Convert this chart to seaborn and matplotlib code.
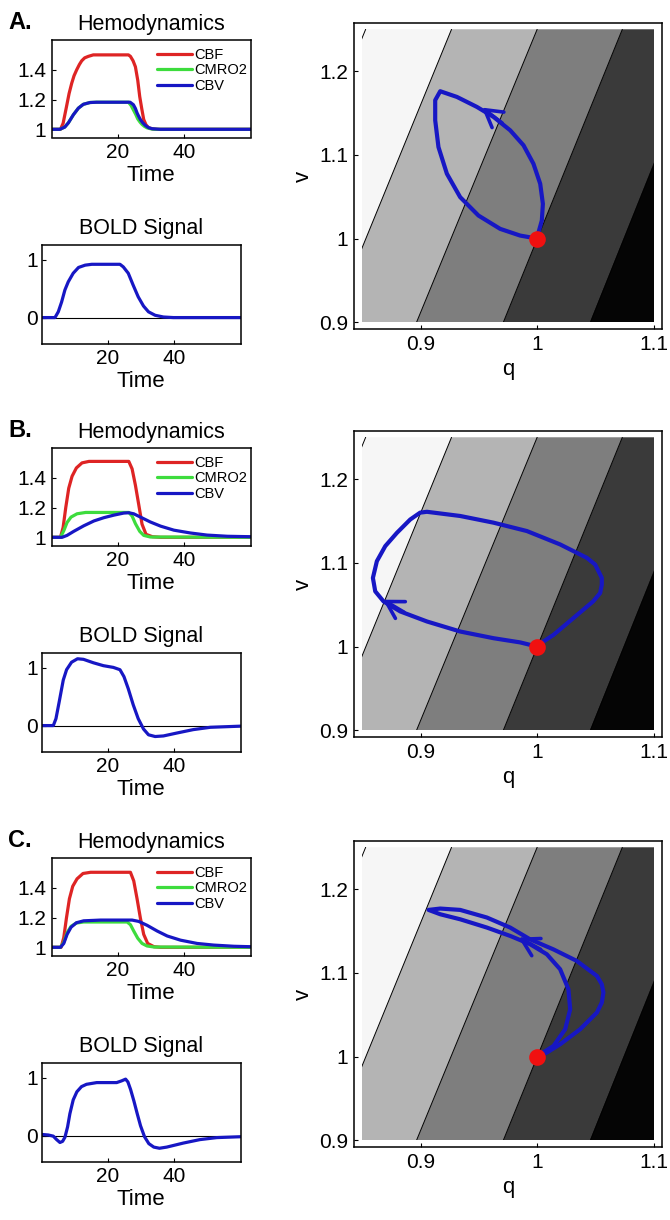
import matplotlib.pyplot as plt
from matplotlib.patches import Rectangle
import seaborn as sns

# ---------------- data ----------------
# panel A: hemodynamics
a_cbf_t = [0, 2.7, 3.5, 4.5, 5.3, 6.1, 6.8, 7.6, 8.4, 9.1, 10.0, 11.1, 12.6, 23.2, 23.8, 24.6, 25.3, 26.0, 26.6, 27.2, 27.8, 28.5, 29.3, 30.5, 32, 60]
a_cbf = [1.0, 1.0, 1.04, 1.15, 1.24, 1.31, 1.36, 1.40, 1.435, 1.46, 1.48, 1.49, 1.50, 1.50, 1.49, 1.46, 1.42, 1.33, 1.22, 1.14, 1.066, 1.03, 1.01, 1.003, 1.0, 1.0]
a_cmro2_t = [0, 2.5, 4.0, 5.1, 6.6, 8.1, 9.6, 11.6, 13.6, 23.2, 24.0, 24.7, 25.4, 26.0, 26.7, 27.3, 28.0, 28.8, 30.0, 31, 60]
a_cmro2 = [1.0, 1.0, 1.015, 1.044, 1.098, 1.142, 1.168, 1.18, 1.182, 1.182, 1.16, 1.13, 1.10, 1.07, 1.048, 1.033, 1.02, 1.01, 1.003, 1.0, 1.0]
a_cbv_t = [0, 2.5, 4.0, 5.1, 6.6, 8.1, 9.6, 11.6, 13.6, 23.7, 24.7, 25.3, 25.8, 26.3, 26.8, 27.5, 28.3, 29.2, 30.3, 32.8, 60]
a_cbv = [1.0, 1.0, 1.015, 1.044, 1.098, 1.142, 1.168, 1.18, 1.182, 1.182, 1.165, 1.14, 1.11, 1.087, 1.066, 1.044, 1.026, 1.012, 1.004, 1.0, 1.0]
# panel A: BOLD
a_bold_t = [0, 4.0, 5.0, 6.0, 7.0, 8.0, 9.5, 11.1, 13.1, 15.1, 23.6, 24.6, 26.1, 27.6, 29.1, 30.7, 32.2, 34.2, 36.7, 39.7, 60]
a_bold = [0, 0, 0.10, 0.27, 0.48, 0.62, 0.77, 0.87, 0.91, 0.925, 0.925, 0.88, 0.77, 0.56, 0.36, 0.20, 0.10, 0.04, 0.01, 0.0, 0.0]
# panel A: trajectory in (q, v)
a_q = [1.000, 1.004, 1.0049, 1.0026, 0.9968, 0.9883, 0.9769, 0.9626, 0.9483, 0.9312, 0.9169, 0.9126, 0.9126, 0.9154, 0.9226, 0.934, 0.9497, 0.9683, 0.9854, 1.000]
a_v = [1.0016, 1.0216, 1.0415, 1.0655, 1.0894, 1.1114, 1.1293, 1.1453, 1.1573, 1.1692, 1.176, 1.1653, 1.1413, 1.1093, 1.0775, 1.0495, 1.0275, 1.0116, 1.0036, 1.000]
a_arrow_tail = (0.970, 1.138)
a_arrow_head = (0.9526, 1.1565)

# panel B: hemodynamics
b_cbf_t = [0, 2.7, 3.5, 4.3, 5.2, 6.2, 7.5, 9.2, 11.3, 23.3, 24.3, 25.3, 26.3, 27.3, 28.5, 30.4, 32.9, 60]
b_cbf = [1.0, 1.0, 1.066, 1.2, 1.33, 1.41, 1.466, 1.50, 1.51, 1.51, 1.46, 1.35, 1.22, 1.088, 1.02, 1.004, 1.0, 1.0]
b_cmro2_t = [0, 2.7, 3.7, 4.7, 5.9, 7.7, 10.3, 23.3, 24.3, 25.3, 26.6, 27.8, 29.8, 60]
b_cmro2 = [1.0, 1.0, 1.044, 1.10, 1.136, 1.158, 1.167, 1.167, 1.143, 1.092, 1.04, 1.013, 1.002, 1.0]
b_cbv_t = [0, 3.2, 4.7, 6.7, 9.7, 12.8, 15.8, 18.8, 21.8, 23.3, 24.8, 26.8, 29.8, 32.9, 36.9, 41.9, 46.9, 53, 60]
b_cbv = [1.0, 1.0, 1.013, 1.04, 1.077, 1.11, 1.132, 1.149, 1.163, 1.165, 1.158, 1.136, 1.103, 1.075, 1.048, 1.029, 1.015, 1.007, 1.004]
# panel B: BOLD
b_bold_t = [0, 3.5, 4.3, 5.3, 6.5, 7.5, 9.0, 10.8, 12.6, 15.6, 18.6, 21.6, 23.6, 24.8, 26.1, 27.6, 29.1, 30.7, 32.2, 34.2, 36.7, 40.7, 45.7, 50.8, 60]
b_bold = [0, 0, 0.12, 0.42, 0.79, 0.97, 1.10, 1.16, 1.15, 1.09, 1.04, 1.01, 0.97, 0.85, 0.64, 0.36, 0.12, -0.06, -0.16, -0.19, -0.18, -0.13, -0.07, -0.03, -0.01]
# panel B: trajectory in (q, v)
b_q = [1.001, 1.014, 1.031, 1.048, 1.054, 1.0554, 1.0554, 1.0497, 1.0426, 1.0197, 0.9912, 0.9626, 0.934, 0.9055, 0.8997, 0.8912, 0.8798, 0.8698, 0.8626, 0.8592, 0.8612, 0.8683, 0.8826, 0.9055, 0.934, 0.9626, 0.9854, 1.0]
b_v = [1.002, 1.014, 1.034, 1.054, 1.064, 1.074, 1.082, 1.098, 1.106, 1.122, 1.138, 1.148, 1.156, 1.161, 1.16, 1.1518, 1.1359, 1.12, 1.102, 1.082, 1.066, 1.054, 1.042, 1.030, 1.018, 1.01, 1.005, 1.0]
b_arrow_tail = (0.886, 1.041)
b_arrow_head = (0.8678, 1.056)

# panel C: hemodynamics
c_cbf_t = [0, 2.9, 3.7, 4.5, 5.4, 6.4, 7.7, 9.5, 11.8, 23.8, 24.8, 25.8, 26.8, 27.8, 29.0, 30.9, 32.9, 60]
c_cbf = [1.0, 1.0, 1.065, 1.196, 1.326, 1.41, 1.46, 1.496, 1.504, 1.504, 1.446, 1.326, 1.196, 1.087, 1.026, 1.004, 1.0, 1.0]
c_cmro2_t = [0, 2.7, 3.7, 4.7, 5.9, 7.5, 9.7, 22.8, 23.8, 24.8, 26.0, 27.3, 28.8, 30.9, 60]
c_cmro2 = [1.0, 1.0, 1.033, 1.098, 1.141, 1.163, 1.17, 1.17, 1.152, 1.109, 1.061, 1.026, 1.009, 1.002, 1.0]
c_cbv_t = [0, 2.7, 3.7, 4.7, 5.9, 7.5, 9.7, 14.8, 24.3, 26.3, 28.8, 31.9, 34.9, 38.9, 43.9, 48.9, 55, 60]
c_cbv = [1.0, 1.0, 1.026, 1.087, 1.135, 1.165, 1.178, 1.183, 1.183, 1.174, 1.148, 1.109, 1.076, 1.048, 1.026, 1.015, 1.007, 1.004]
# panel C: BOLD
c_bold_t = [0, 2, 3.5, 4.5, 5.5, 6.3, 7.0, 7.8, 8.5, 9.5, 10.6, 12, 13.5, 16.6, 22.6, 24.1, 25.3, 26.0, 26.8, 27.8, 28.8, 29.8, 31, 32.3, 33.8, 35.5, 37.7, 42.7, 47.7, 52.8, 60]
c_bold = [0.02, 0.01, -0.01, -0.07, -0.12, -0.10, -0.03, 0.15, 0.38, 0.62, 0.76, 0.85, 0.89, 0.92, 0.92, 0.95, 0.98, 0.93, 0.80, 0.60, 0.38, 0.17, -0.02, -0.14, -0.20, -0.22, -0.20, -0.13, -0.07, -0.035, -0.02]
# panel C: trajectory in (q, v)
c_q = [1.0026, 1.014, 1.024, 1.0283, 1.0268, 1.0197, 1.0083, 0.994, 0.9769, 0.9569, 0.934, 0.9169, 0.9069, 0.9169, 0.934, 0.9569, 0.9769, 0.994, 1.014, 1.034, 1.0512, 1.0554, 1.0568, 1.0554, 1.0512, 1.0368, 1.0197, 1.0083, 1.0026]
c_v = [1.0027, 1.0127, 1.0326, 1.0565, 1.0804, 1.1043, 1.1222, 1.1342, 1.1441, 1.1541, 1.164, 1.17, 1.1752, 1.1768, 1.1752, 1.1661, 1.1541, 1.14, 1.128, 1.1142, 1.0963, 1.0864, 1.0765, 1.0645, 1.0526, 1.0326, 1.0147, 1.0048, 1.0015]
c_arrow_tail = (1.003, 1.128)
c_arrow_head = (0.984, 1.1422)

# BOLD iso-contours in the (q, v) plane: q where each boundary meets v=0.9 and v=1.25
contour_q_bottom = [0.75, 0.8238, 0.8966, 0.971, 1.0457]
contour_q_top = [0.853, 0.9266, 1.0, 1.073, 1.1463]
band_grays = ['#ffffff', '#f6f6f6', '#b4b4b4', '#7e7e7e', '#3a3a3a', '#050505']
contour_v = (0.9, 1.25)
field_q = (0.85, 1.1)

panels = [
    dict(tag='A.', cbf=(a_cbf_t, a_cbf), cmro2=(a_cmro2_t, a_cmro2), cbv=(a_cbv_t, a_cbv),
         bold=(a_bold_t, a_bold), traj=(a_q, a_v), arrow=(a_arrow_tail, a_arrow_head)),
    dict(tag='B.', cbf=(b_cbf_t, b_cbf), cmro2=(b_cmro2_t, b_cmro2), cbv=(b_cbv_t, b_cbv),
         bold=(b_bold_t, b_bold), traj=(b_q, b_v), arrow=(b_arrow_tail, b_arrow_head)),
    dict(tag='C.', cbf=(c_cbf_t, c_cbf), cmro2=(c_cmro2_t, c_cmro2), cbv=(c_cbv_t, c_cbv),
         bold=(c_bold_t, c_bold), traj=(c_q, c_v), arrow=(c_arrow_tail, c_arrow_head)),
]

# ---------------- style ----------------
sns.set_style('ticks', {'xtick.direction': 'in', 'ytick.direction': 'in',
                        'axes.edgecolor': 'black', 'text.color': 'black',
                        'axes.labelcolor': 'black', 'xtick.color': 'black',
                        'ytick.color': 'black'})
plt.rcParams['font.family'] = ['Liberation Sans', 'DejaVu Sans']

RED, GREEN, BLUE = '#de2424', '#3ddc3d', '#1717c4'
W, H = 670, 1220
fig = plt.figure(figsize=(6.7, 12.2), dpi=100)


def rect(left, top, width, height):
    return [left / W, 1 - (top + height) / H, width / W, height / H]


def style_axes(ax, size=15):
    for s in ax.spines.values():
        s.set_linewidth(1.1)
        s.set_color('black')
    ax.tick_params(labelsize=size, length=3, width=0.8, pad=4, colors='black')


offsets = [0, 408, 818]

for p, off in zip(panels, offsets):
    # --- hemodynamics ---
    ax = fig.add_axes(rect(51.5, 40 + off, 199, 97.5))
    for key, col, name in [('cbf', RED, 'CBF'), ('cmro2', GREEN, 'CMRO2'), ('cbv', BLUE, 'CBV')]:
        t, y = p[key]
        sns.lineplot(x=t, y=y, ax=ax, color=col, linewidth=2.3, label=name, sort=False, estimator=None)
    ax.set_xlim(0, 60)
    ax.set_ylim(0.945, 1.6)
    ax.set_xticks([20, 40], ['20', '40'])
    ax.set_yticks([1, 1.2, 1.4], ['1', '1.2', '1.4'])
    style_axes(ax)
    ax.set_title('Hemodynamics', fontsize=15.5, pad=7)
    ax.set_xlabel('Time', fontsize=16, labelpad=2)
    ax.set_ylabel('')
    ax.legend(loc='upper right', bbox_to_anchor=(1.0, 0.95), frameon=False, fontsize=10.5,
              handlelength=2.4, handletextpad=0.2, labelspacing=0.1, borderaxespad=0.1,
              borderpad=0.1)
    fig.text(8 / W, 1 - (29 + off) / H, p['tag'], fontsize=17, fontweight='bold', va='baseline')

    # --- BOLD signal ---
    ax = fig.add_axes(rect(41.7, 245 + off, 199, 98.5))
    ax.axhline(0, color='black', lw=0.8, zorder=1)
    t, y = p['bold']
    sns.lineplot(x=t, y=y, ax=ax, color=BLUE, linewidth=2.3, sort=False, estimator=None, zorder=2)
    ax.set_xlim(0, 60)
    ax.set_ylim(-0.45, 1.26)
    ax.set_xticks([20, 40], ['20', '40'])
    ax.set_yticks([0, 1], ['0', '1'])
    style_axes(ax)
    ax.tick_params(axis='y', pad=3)
    ax.set_title('BOLD Signal', fontsize=15.5, pad=8)
    ax.set_xlabel('Time', fontsize=16, labelpad=2)
    ax.set_ylabel('')

    # --- phase plane (q, v) ---
    ax = fig.add_axes(rect(354, 23 + off, 308, 306))
    clip = Rectangle((field_q[0], contour_v[0]), field_q[1] - field_q[0], contour_v[1] - contour_v[0],
                     transform=ax.transData, facecolor='none', edgecolor='none')
    ax.add_patch(clip)
    edges_b = [0.6] + contour_q_bottom + [1.4]
    edges_t = [0.6] + contour_q_top + [1.4]
    for i, col in enumerate(band_grays):
        poly = ax.fill([edges_b[i], edges_b[i + 1], edges_t[i + 1], edges_t[i]],
                       [contour_v[0], contour_v[0], contour_v[1], contour_v[1]],
                       color=col, lw=0, zorder=0)
        poly[0].set_clip_path(clip)
    for qb, qt in zip(contour_q_bottom, contour_q_top):
        ln, = ax.plot([qb, qt], list(contour_v), color='black', lw=0.7, zorder=1)
        ln.set_clip_path(clip)
    q, v = p['traj']
    sns.lineplot(x=q, y=v, ax=ax, color=BLUE, linewidth=3, sort=False, estimator=None, zorder=3)
    for line in ax.get_lines()[-1:]:
        line.set_solid_joinstyle('round')
    tail, head = p['arrow']
    ax.annotate('', xy=head, xytext=tail, zorder=4,
                arrowprops=dict(arrowstyle='->, head_length=0.6, head_width=0.35',
                                color=BLUE, lw=2.6, mutation_scale=20, shrinkA=0, shrinkB=0))
    ax.plot([1.0], [1.0], 'o', color='#f01010', ms=12, mec='none', zorder=5)
    ax.set_xlim(0.843, 1.107)
    ax.set_ylim(0.892, 1.2575)
    ax.set_xticks([0.9, 1.0, 1.1], ['0.9', '1', '1.1'])
    ax.set_yticks([0.9, 1.0, 1.1, 1.2], ['0.9', '1', '1.1', '1.2'])
    style_axes(ax)
    ax.set_xlabel('q', fontsize=16, labelpad=4)
    ax.set_ylabel('v', fontsize=16, labelpad=4)

fig.savefig('out.png', dpi=100, facecolor='white')
